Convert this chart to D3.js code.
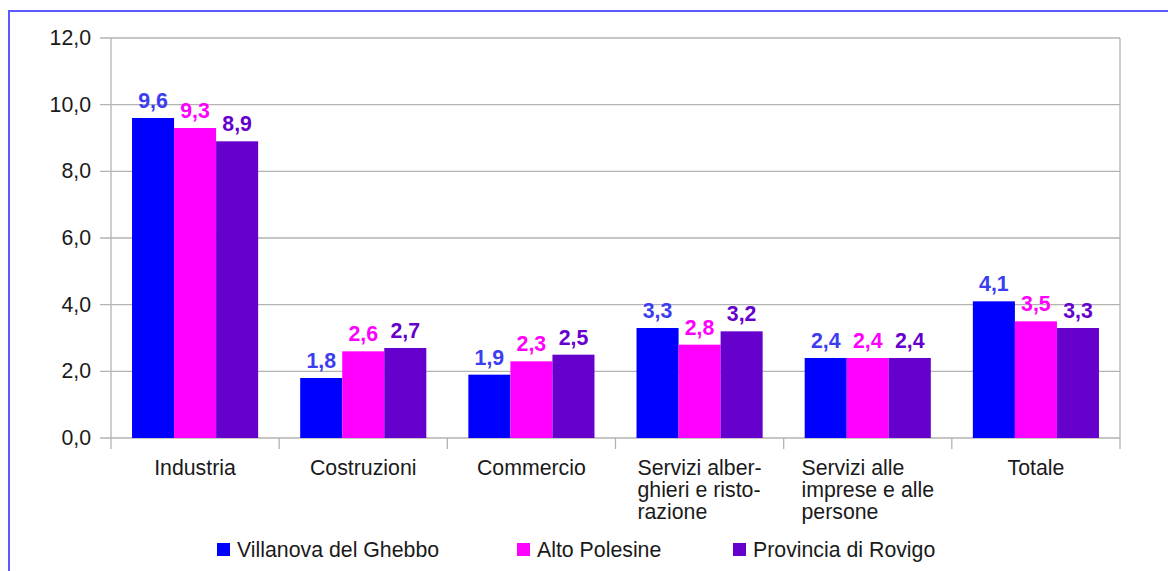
<!DOCTYPE html>
<html lang="it">
	<head>
		<meta charset="utf-8">
		<title>Grafico a barre per settore</title>
		<script type="text/javascript" src="https://cdn.jsdelivr.net/npm/d3@7"></script>
		<style type="text/css">
			body { margin: 0; background: #fff; }
			svg { display: block; font-family: "Liberation Sans", Arial, sans-serif; }
		</style>
	</head>
	<body>
		<script type="text/javascript">

			//Width and height
			var w = 1168;
			var h = 571;

			//Data
			var categories = [
				["Industria"],
				["Costruzioni"],
				["Commercio"],
				["Servizi alber-", "ghieri e risto-", "razione"],
				["Servizi alle", "imprese e alle", "persone"],
				["Totale"]
			];
			var seriesNames = ["Villanova del Ghebbo", "Alto Polesine", "Provincia di Rovigo"];
			var villanova = [9.6, 1.8, 1.9, 3.3, 2.4, 4.1];
			var altoPolesine = [9.3, 2.6, 2.3, 2.8, 2.4, 3.5];
			var rovigo = [8.9, 2.7, 2.5, 3.2, 2.4, 3.3];
			var yTicks = [0, 2, 4, 6, 8, 10, 12];

			var series = [villanova, altoPolesine, rovigo];
			var barColors = ["#0000ff", "#ff00ff", "#6600cc"];
			var labelColors = ["#3c3cf0", "#ff00ff", "#6600cc"];

			var plot = { left: 111, right: 1120, top: 38, bottom: 438 };
			var fs = "21.3px";

			var svg = d3.select("body")
						.append("svg")
						.attr("width", w)
						.attr("height", h);

			//Outer frame
			svg.append("rect")
			   .attr("x", 9)
			   .attr("y", 11)
			   .attr("width", w + 20)
			   .attr("height", h + 20)
			   .attr("fill", "none")
			   .attr("stroke", "#5a5aff")
			   .attr("stroke-width", 2);

			var x0 = d3.scaleBand()
					   .domain(d3.range(categories.length))
					   .range([plot.left, plot.right]);

			var x1 = d3.scaleBand()
					   .domain(d3.range(series.length))
					   .range([0, x0.bandwidth()])
					   .paddingOuter(0.5)
					   .paddingInner(0);

			var y = d3.scaleLinear()
					  .domain([0, 12])
					  .range([plot.bottom, plot.top]);

			//Gridlines
			svg.append("g")
			   .selectAll("line")
			   .data(yTicks)
			   .enter()
			   .append("line")
			   .attr("x1", plot.left - 11)
			   .attr("x2", plot.right)
			   .attr("y1", function(d) { return y(d); })
			   .attr("y2", function(d) { return y(d); })
			   .attr("stroke", "#b3b3b3")
			   .attr("stroke-width", 1.3);

			//Vertical frame + category ticks
			var xTickPos = d3.range(categories.length + 1).map(function(i) {
				return plot.left + i * x0.step();
			});
			svg.append("g")
			   .selectAll("line")
			   .data(xTickPos)
			   .enter()
			   .append("line")
			   .attr("x1", function(d) { return d; })
			   .attr("x2", function(d) { return d; })
			   .attr("y1", function(d, i) { return (i === 0 || i === categories.length) ? plot.top : plot.bottom; })
			   .attr("y2", plot.bottom + 11)
			   .attr("stroke", "#b3b3b3")
			   .attr("stroke-width", 1.3);

			//Y tick labels
			svg.append("g")
			   .selectAll("text")
			   .data(yTicks)
			   .enter()
			   .append("text")
			   .attr("x", plot.left - 20)
			   .attr("y", function(d) { return y(d) + 7; })
			   .attr("text-anchor", "end")
			   .attr("font-size", fs)
			   .attr("fill", "#1a1a1a")
			   .text(function(d) { return d.toFixed(1).replace(".", ","); });

			//Bars
			var groups = svg.append("g")
			   .selectAll("g")
			   .data(series)
			   .enter()
			   .append("g")
			   .attr("fill", function(d, i) { return barColors[i]; });

			groups.selectAll("rect")
			   .data(function(d, i) { return d.map(function(v, j) { return { s: i, c: j, v: v }; }); })
			   .enter()
			   .append("rect")
			   .attr("x", function(d) { return x0(d.c) + x1(d.s); })
			   .attr("y", function(d) { return y(d.v); })
			   .attr("width", x1.bandwidth())
			   .attr("height", function(d) { return y(0) - y(d.v); });

			//Value labels
			groups.selectAll("text")
			   .data(function(d, i) { return d.map(function(v, j) { return { s: i, c: j, v: v }; }); })
			   .enter()
			   .append("text")
			   .attr("x", function(d) { return x0(d.c) + x1(d.s) + x1.bandwidth() / 2; })
			   .attr("y", function(d) { return y(d.v) - 10; })
			   .attr("text-anchor", "middle")
			   .attr("font-size", fs)
			   .attr("font-weight", "bold")
			   .attr("fill", function(d) { return labelColors[d.s]; })
			   .text(function(d) { return d.v.toFixed(1).replace(".", ","); });

			//Category labels
			var catGroups = svg.append("g")
			   .selectAll("text")
			   .data(categories)
			   .enter()
			   .append("text")
			   .attr("font-size", fs)
			   .attr("fill", "#1a1a1a");

			catGroups.each(function(lines, i) {
				var t = d3.select(this);
				t.selectAll("tspan")
				 .data(lines)
				 .enter()
				 .append("tspan")
				 .attr("x", 0)
				 .attr("y", function(d, k) { return 475 + k * 22; })
				 .text(function(d) { return d; });
				//centre the block, lines left-aligned
				var bw = this.getBBox().width;
				var cx = x0(i) + x0.bandwidth() / 2;
				t.selectAll("tspan").attr("x", cx - bw / 2);
			});

			//Legend
			var legendX = [217, 517, 733];
			var legend = svg.append("g")
			   .selectAll("g")
			   .data(seriesNames)
			   .enter()
			   .append("g")
			   .attr("transform", function(d, i) { return "translate(" + legendX[i] + ",543)"; });

			legend.append("rect")
			   .attr("width", 13)
			   .attr("height", 13)
			   .attr("fill", function(d, i) { return barColors[i]; });

			legend.append("text")
			   .attr("x", 20)
			   .attr("y", 14)
			   .attr("font-size", fs)
			   .attr("fill", "#1a1a1a")
			   .text(function(d) { return d; });

		</script>
	</body>
</html>
